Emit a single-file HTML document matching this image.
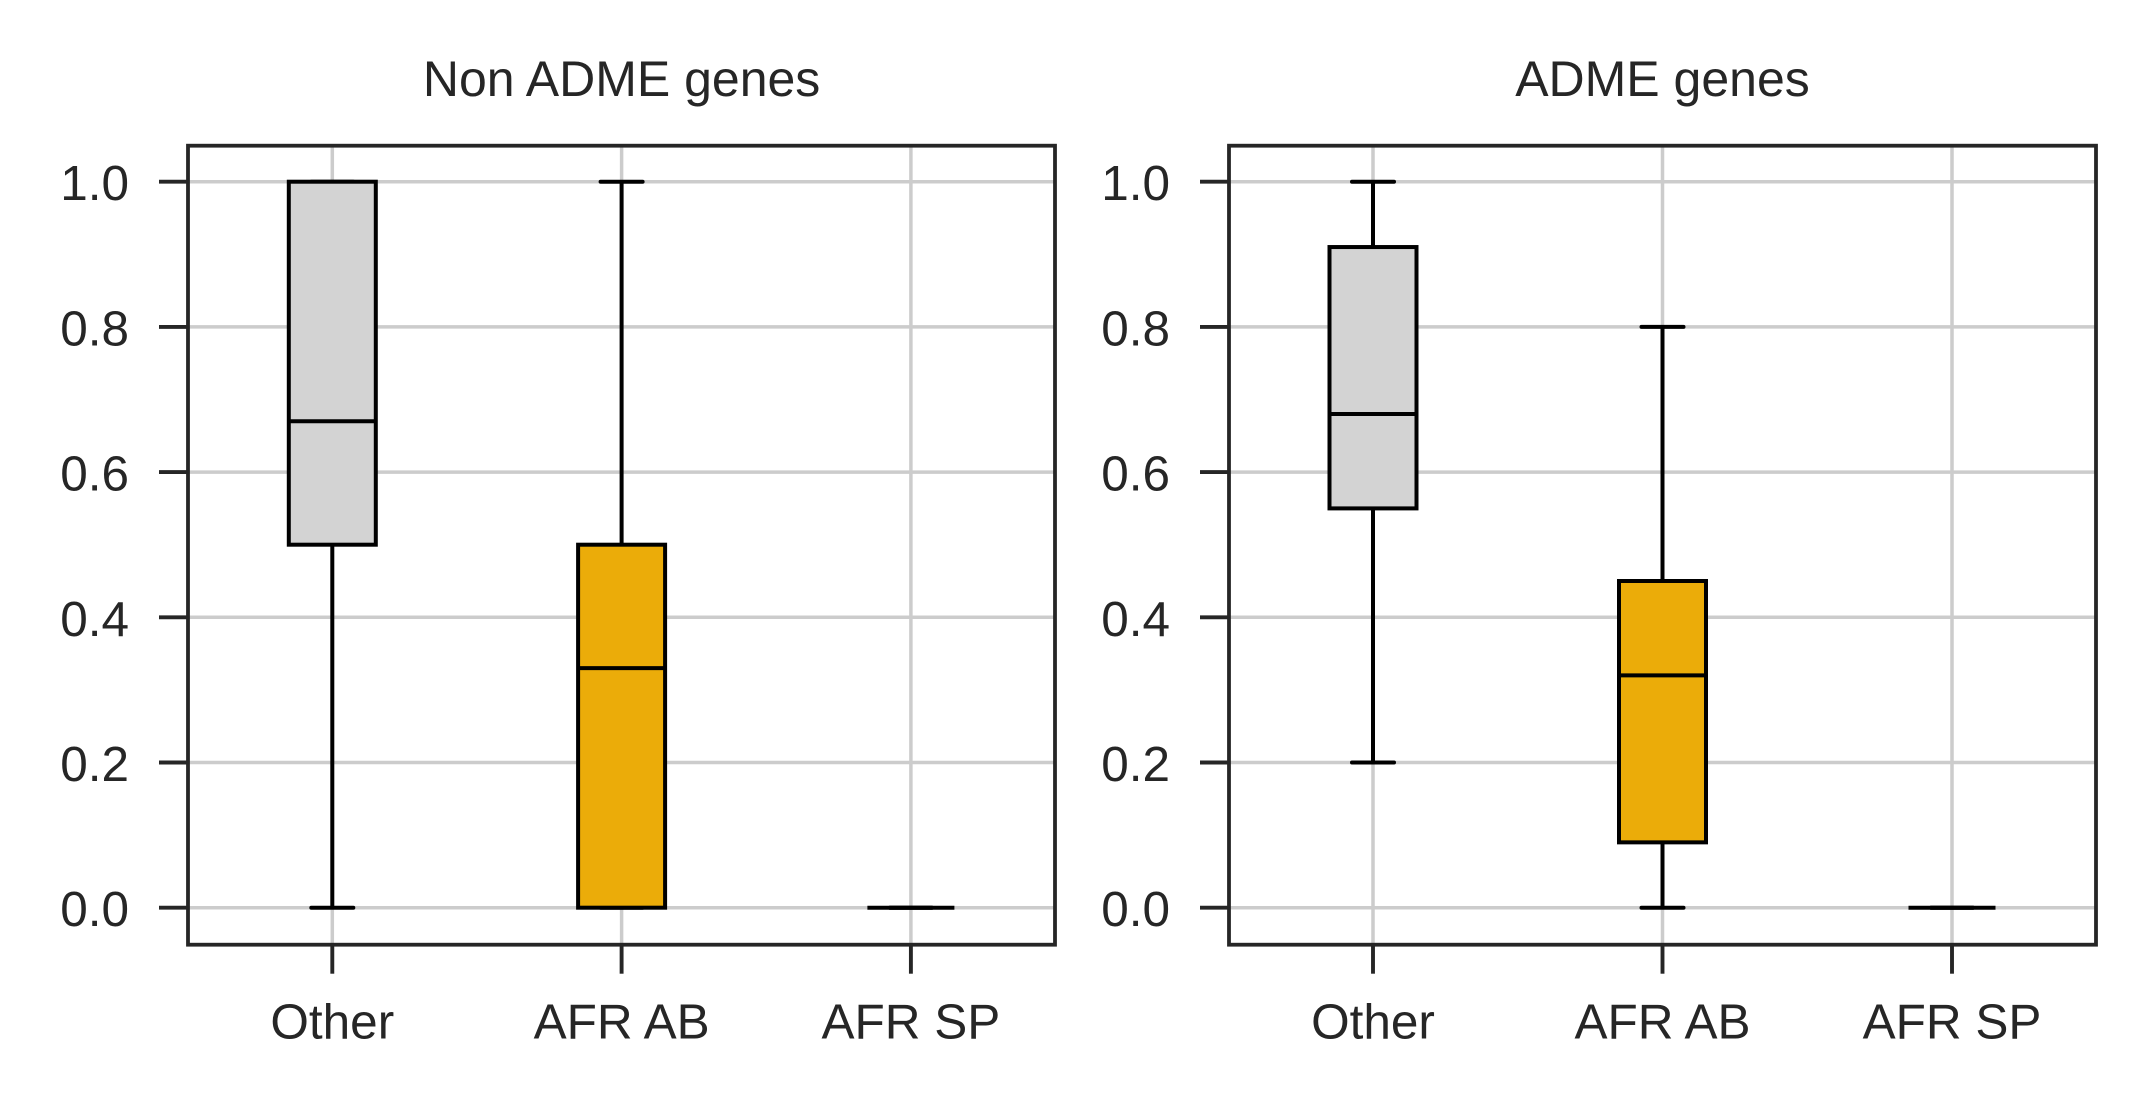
<!DOCTYPE html>
<html lang="en">
<head>
<meta charset="utf-8">
<title>Non ADME and ADME genes box plots</title>
<style>
html,body{margin:0;padding:0;background:#fff;width:2156px;height:1109px;overflow:hidden}
svg{display:block}
text{font-family:"Liberation Sans",Arial,sans-serif;fill:#262626;font-size:49.5px}
.title{font-size:50px}
</style>
</head>
<body>
<svg id="chart" xmlns="http://www.w3.org/2000/svg" width="2156" height="1109" viewBox="0 0 2156 1109"></svg>
<script>
const categories = ["Other", "AFR AB", "AFR SP"];
const yTicks = [0, 0.2, 0.4, 0.6, 0.8, 1.0];
const yTickLabels = ["0.0", "0.2", "0.4", "0.6", "0.8", "1.0"];
const panelTitles = ["Non ADME genes", "ADME genes"];
const boxColors = ["#d3d3d3", "#ebac09", "#ffffff"];

const nonAdmeWhiskerLow = [0, 0, 0];
const nonAdmeQ1 = [0.5, 0, 0];
const nonAdmeMedian = [0.67, 0.33, 0];
const nonAdmeQ3 = [1, 0.5, 0];
const nonAdmeWhiskerHigh = [1, 1, 0];

const admeWhiskerLow = [0.2, 0, 0];
const admeQ1 = [0.55, 0.09, 0];
const admeMedian = [0.68, 0.32, 0];
const admeQ3 = [0.91, 0.45, 0];
const admeWhiskerHigh = [1, 0.8, 0];

const NS = "http://www.w3.org/2000/svg";
const svg = document.getElementById("chart");
const yZero = 907.7, yPerUnit = 726;
const yScale = v => yZero - yPerUnit * v;
const plotTop = 145.7, plotBottom = 944.7;
const INK = "#262626", GRID = "#cccccc";

function makeLine(parent, x1, y1, x2, y2, color, width, cap) {
  const l = document.createElementNS(NS, "line");
  l.setAttribute("x1", x1);
  l.setAttribute("y1", y1);
  l.setAttribute("x2", x2);
  l.setAttribute("y2", y2);
  l.setAttribute("stroke", color);
  l.setAttribute("stroke-width", width);
  l.setAttribute("stroke-linecap", cap || "butt");
  parent.appendChild(l);
  return l;
}
function makeText(parent, x, y, anchor, content) {
  const t = document.createElementNS(NS, "text");
  t.setAttribute("x", x);
  t.setAttribute("y", y);
  t.setAttribute("text-anchor", anchor);
  t.textContent = content;
  parent.appendChild(t);
  return t;
}
function slug(s) { return s.toLowerCase().replace(/[^a-z0-9]+/g, "-"); }

function drawPanel(panelIndex, left, right, firstX, step, low, q1, med, q3, high) {
  const xScale = i => firstX + step * i;
  const pName = slug(panelTitles[panelIndex]);
  const g = document.createElementNS(NS, "g");
  
  
  svg.appendChild(g);

  yTicks.forEach((v, i) => {
    const grid = makeLine(g, left, yScale(v), right, yScale(v), GRID, 3.5);
    
    
    const tick = makeLine(g, left - 29, yScale(v), left, yScale(v), INK, 3.9);
    
    
    const label = makeText(g, left - 59, yScale(v) + 18.5, "end", yTickLabels[i]);
    
    
  });

  categories.forEach((c, i) => {
    const x = xScale(i);
    const grid = makeLine(g, x, plotTop, x, plotBottom, GRID, 3.5);
    
    
    const tick = makeLine(g, x, plotBottom, x, plotBottom + 29, INK, 3.9);
    
    
    const label = makeText(g, x, 1038.7, "middle", c);
    
    
  });

  categories.forEach((c, i) => {
    const x = xScale(i);
    const bw = 87, cw = 42;
    const box = document.createElementNS(NS, "g");
    
    
    g.appendChild(box);

    const wl = makeLine(box, x, yScale(low[i]), x, yScale(q1[i]), "#000", 4);
    
    
    const wh = makeLine(box, x, yScale(q3[i]), x, yScale(high[i]), "#000", 4);
    
    
    const cl = makeLine(box, x - cw / 2, yScale(low[i]), x + cw / 2, yScale(low[i]), "#000", 4, "round");
    
    
    const ch = makeLine(box, x - cw / 2, yScale(high[i]), x + cw / 2, yScale(high[i]), "#000", 4, "round");
    
    

    const r = document.createElementNS(NS, "rect");
    r.setAttribute("x", x - bw / 2);
    r.setAttribute("y", yScale(q3[i]));
    r.setAttribute("width", bw);
    r.setAttribute("height", yScale(q1[i]) - yScale(q3[i]));
    r.setAttribute("fill", boxColors[i]);
    r.setAttribute("stroke", "#000");
    r.setAttribute("stroke-width", "4");
    
    
    box.appendChild(r);

    const m = makeLine(box, x - bw / 2, yScale(med[i]), x + bw / 2, yScale(med[i]), "#000", 4);
    
    
  });

  const frame = document.createElementNS(NS, "rect");
  frame.setAttribute("x", left);
  frame.setAttribute("y", plotTop);
  frame.setAttribute("width", right - left);
  frame.setAttribute("height", plotBottom - plotTop);
  frame.setAttribute("fill", "none");
  frame.setAttribute("stroke", INK);
  frame.setAttribute("stroke-width", "3.8");
  
  
  g.appendChild(frame);

  const title = makeText(g, firstX + step, 96, "middle", panelTitles[panelIndex]);
  title.setAttribute("class", "title");
  
  
}

drawPanel(0, 188, 1055, 332.3, 289.3, nonAdmeWhiskerLow, nonAdmeQ1, nonAdmeMedian, nonAdmeQ3, nonAdmeWhiskerHigh);
drawPanel(1, 1229, 2096, 1373, 289.5, admeWhiskerLow, admeQ1, admeMedian, admeQ3, admeWhiskerHigh);
</script>
</body>
</html>
